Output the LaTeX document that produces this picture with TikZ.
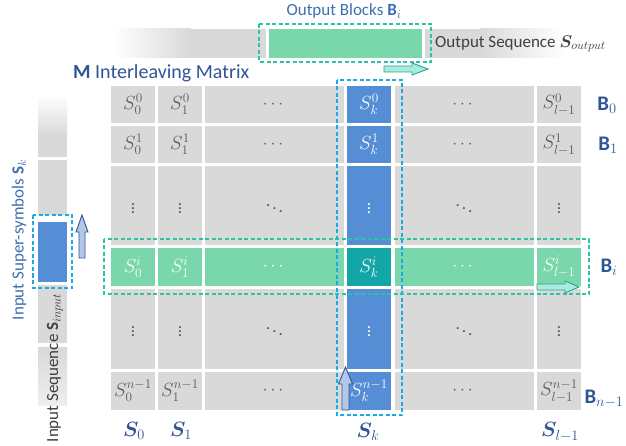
\RequirePackage{fix-cm}
\documentclass[tikz,border=0pt]{standalone}
\usepackage{amsmath,bm,graphicx}
\usepackage{fontspec}
\setmainfont{Carlito}
\newcommand\cellm[1]{\scalebox{1.1}{$#1$}}
\definecolor{cgray}{HTML}{D9D9D9}
\definecolor{ctxt}{HTML}{595959}
\definecolor{cblue}{HTML}{558ED5}
\definecolor{cgreen}{HTML}{7AD7AB}
\definecolor{cteal}{HTML}{14A6A6}
\definecolor{lab}{HTML}{2F5597}
\definecolor{lab2}{HTML}{3C6EB0}
\definecolor{dcyan}{HTML}{1DA9E6}
\definecolor{dgreen}{HTML}{2BC4A2}
\definecolor{arrteal}{HTML}{AEEADB}
\definecolor{arrtealdraw}{HTML}{20A898}
\definecolor{arrblue}{HTML}{B4C7E7}
\definecolor{arrbluedraw}{HTML}{2F5597}
\definecolor{dtext}{HTML}{404040}
\begin{document}
\begin{tikzpicture}[x=1pt,y=-1pt,
 cell/.style={inner sep=0pt, minimum width=44pt, fill=cgray, text=ctxt, font=\fontsize{17.28}{20}\selectfont},
 wide/.style={minimum width=139pt},
 rs/.style={minimum height=37pt},
 rt/.style={minimum height=79pt},
 bc/.style={fill=cblue,text=white},
 gc/.style={fill=cgreen,text=white},
 tc/.style={fill=cteal,text=white},
 lbl/.style={text=lab, font=\fontsize{20.74}{24}\selectfont},
 side/.style={font=\fontsize{17}{20}\selectfont, inner sep=0pt},
 dbox/.style={dash pattern=on 4pt off 2.5pt, line width=1.1pt},
 tarrow/.style={fill=arrteal, draw=arrtealdraw, line width=0.9pt},
 barrow/.style={fill=arrblue, draw=arrbluedraw, line width=0.9pt},
]
\useasboundingbox (0,0) rectangle (626,446);

% ---- matrix cells ----
% row 0
\node[cell,rs] (a0) at (133,104.5) {\cellm{S_0^0}};
\node[cell,rs] (a1) at (180,104.5) {\cellm{S_1^0}};
\node[cell,rs,wide] (a2) at (274.5,104.5) {$\cdots$};
\node[cell,rs,bc] (a3) at (369,104.5) {\cellm{S_k^0}};
\node[cell,rs,wide] (a4) at (464,104.5) {$\cdots$};
\node[cell,rs] (a5) at (559,104.5) {\cellm{S_{l-1}^0}};
% row 1
\node[cell,rs] (b0) at (133,144.5) {\cellm{S_0^1}};
\node[cell,rs] (b1) at (180,144.5) {\cellm{S_1^1}};
\node[cell,rs,wide] (b2) at (274.5,144.5) {$\cdots$};
\node[cell,rs,bc] (b3) at (369,144.5) {\cellm{S_k^1}};
\node[cell,rs,wide] (b4) at (464,144.5) {$\cdots$};
\node[cell,rs] (b5) at (559,144.5) {\cellm{S_{l-1}^1}};
% row 2
\node[cell,rt] (c0) at (133,205.5) {$\vdots$};
\node[cell,rt] (c1) at (180,205.5) {$\vdots$};
\node[cell,rt,wide] (c2) at (274.5,205.5) {$\ddots$};
\node[cell,rt,bc] (c3) at (369,205.5) {$\vdots$};
\node[cell,rt,wide] (c4) at (464,205.5) {$\ddots$};
\node[cell,rt] (c5) at (559,205.5) {$\vdots$};
% row i
\node[cell,gc,minimum height=38pt] (d0) at (133,267) {\cellm{S_0^i}};
\node[cell,gc,minimum height=38pt] (d1) at (180,267) {\cellm{S_1^i}};
\node[cell,gc,wide,minimum height=38pt] (d2) at (274.5,267) {$\cdots$};
\node[cell,tc,minimum height=38pt] (d3) at (369,267) {\cellm{S_k^i}};
\node[cell,gc,wide,minimum height=38pt] (d4) at (464,267) {$\cdots$};
\node[cell,gc,minimum height=38pt] (d5) at (559,267) {\cellm{S_{l-1}^i}};
% row 4
\node[cell,minimum height=80pt] (e0) at (133,329) {$\vdots$};
\node[cell,minimum height=80pt] (e1) at (180,329) {$\vdots$};
\node[cell,minimum height=80pt,wide] (e2) at (274.5,329) {$\ddots$};
\node[cell,minimum height=80pt,bc] (e3) at (369,329) {$\vdots$};
\node[cell,minimum height=80pt,wide] (e4) at (464,329) {$\ddots$};
\node[cell,minimum height=80pt] (e5) at (559,329) {$\vdots$};
% row n-1
\node[cell,minimum height=38pt] (f0) at (133,391) {\cellm{S_0^{n-1}}};
\node[cell,minimum height=38pt] (f1) at (180,391) {\cellm{S_1^{n-1}}};
\node[cell,minimum height=38pt,wide] (f2) at (274.5,391) {$\cdots$};
\node[cell,minimum height=38pt,bc] (f3) at (369,391) {\cellm{S_k^{n-1}}};
\node[cell,minimum height=38pt,wide] (f4) at (464,391) {$\cdots$};
\node[cell,minimum height=38pt] (f5) at (559,391) {\cellm{S_{l-1}^{n-1}}};

% ---- output sequence bar ----
\shade[left color=white, right color=cgray] (113,29) rectangle (190.5,58);
\fill[cgray] (190,29) rectangle (266,58);
\node[fill=cgreen, inner sep=0pt, minimum width=153pt, minimum height=29pt] (outblk) at (345.5,43.5) {};
\fill[cgray] (425,29) rectangle (480.5,58);
\shade[left color=cgray, right color=white] (480,29) rectangle (565,58);
\node[anchor=west, text=dtext, side] (outseq) at (435,44) {Output Sequence $\bm{S}_{output}$};
\node[text=lab2, side] (outblocks) at (344,11) {Output Blocks $\mathbf{B}_i$};
\draw[dbox, dgreen] (259,24) rectangle (431,62);
\draw[tarrow] (384,66) -- (412,66) -- (412,63) -- (428,69) -- (412,75) -- (412,72) -- (384,72) -- cycle;

% ---- matrix title ----
\node[anchor=west, text=lab, font=\fontsize{20}{24}\selectfont, inner sep=0pt] (title) at (73,73) {$\mathbf{M}$ Interleaving Matrix};

% ---- input sequence bar ----
\shade[top color=white, bottom color=cgray] (38,95) rectangle (67,135.5);
\fill[cgray] (38,135) rectangle (67,157);
\fill[cgray] (38,160) rectangle (67,215);
\node[fill=cblue, inner sep=0pt, minimum width=29pt, minimum height=60pt] (inblk) at (52.5,252) {};
\fill[cgray] (38,285) rectangle (67,343);
\shade[top color=cgray, bottom color=cgray!45] (38,347) rectangle (67,405);
\draw[dbox, dcyan] (33,215) rectangle (72,288);
\draw[barrow] (79,258) -- (79,232) -- (76,232) -- (82,215) -- (88,232) -- (85,232) -- (85,258) -- cycle;
\node[rotate=90, text=dtext, side] (inseq) at (55,368) {Input Sequence $\mathbf{S}_{input}$};
\node[rotate=90, text=lab2, side] (insup) at (19,240) {Input Super-symbols $\mathbf{S}_k$};

% ---- dashed selections ----
\draw[dbox, dcyan] (337,80) rectangle (402,415);
\draw[dbox, dgreen] (104,239) rectangle (589,294);
\draw[tarrow] (537,284) -- (565,284) -- (565,281) -- (579,287) -- (565,293) -- (565,290) -- (537,290) -- cycle;
\draw[barrow] (342,410) -- (342,384) -- (338.5,384) -- (345.5,367) -- (352.5,384) -- (349,384) -- (349,410) -- cycle;

% ---- row labels ----
\node[lbl] (B0) at (607,105) {$\mathbf{B}_0$};
\node[lbl] (B1) at (608,145) {$\mathbf{B}_1$};
\node[lbl] (Bi) at (609,267) {$\mathbf{B}_i$};
\node[lbl] (Bn) at (604,399) {$\mathbf{B}_{n-1}$};
% ---- column labels ----
\node[lbl] (S0) at (134,431) {$\bm{S}_0$};
\node[lbl] (S1) at (181,431) {$\bm{S}_1$};
\node[lbl] (Sk) at (368,432) {$\bm{S}_k$};
\node[lbl] (Sl) at (560,432) {$\bm{S}_{l-1}$};
\end{tikzpicture}
\end{document}
